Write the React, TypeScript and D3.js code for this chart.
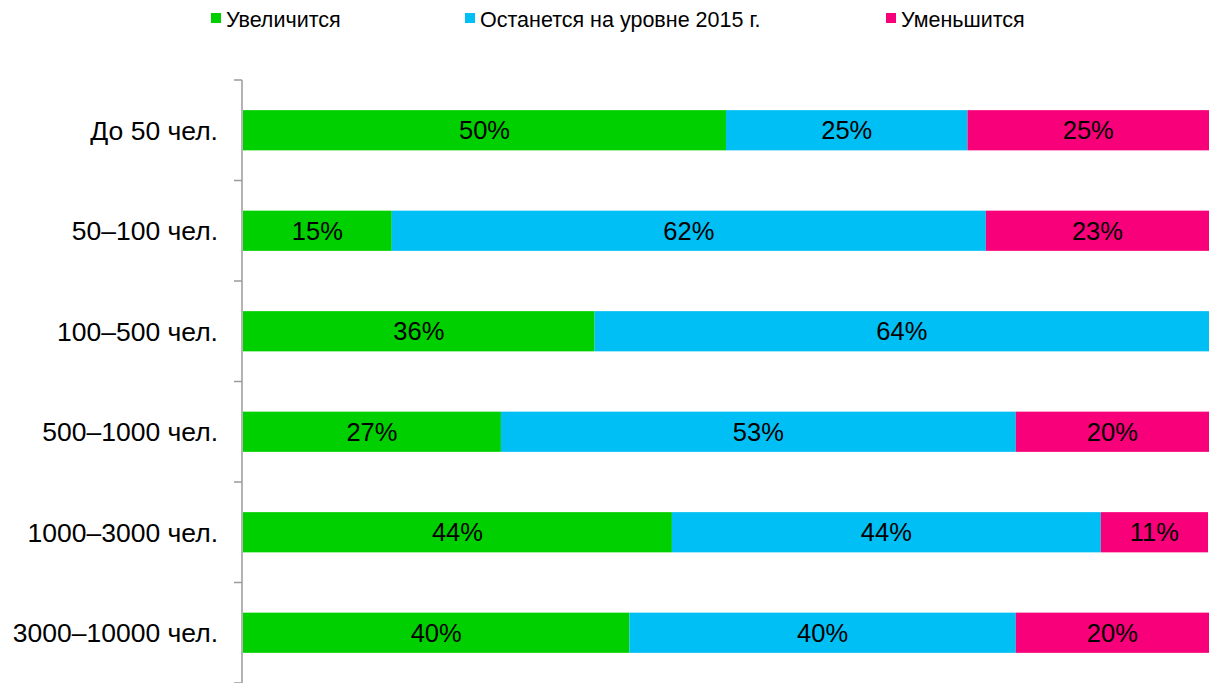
import React from "react";
import * as d3 from "d3";

const categories = ["До 50 чел.", "50–100 чел.", "100–500 чел.", "500–1000 чел.", "1000–3000 чел.", "3000–10000 чел."];
const seriesNames = ["Увеличится", "Останется на уровне 2015 г.", "Уменьшится"];
const increase = [50, 15.4, 36.4, 26.7, 44.4, 40];
const same = [25, 61.5, 63.6, 53.3, 44.4, 40];
const decrease = [25, 23.1, 0, 20, 11.1, 20];
const colors = ["#00cf00", "#00bff5", "#f7007a"];

const W = 1209;
const H = 683;
const FONT = "Arial, 'Liberation Sans', sans-serif";

export default function App() {
  const x = d3.scaleLinear().domain([0, 100]).range([243, 1209]);
  const y = d3.scaleBand<string>().domain(categories).range([80, 683]).paddingInner(0.6).paddingOuter(0.3);
  const rows = categories.map((c, i) => ({ cat: c, v: [increase[i], same[i], decrease[i]] }));
  const step = y.step();
  const boundaries = d3.range(categories.length + 1).map((i) => 80 + i * step);
  const legendX = [211, 465, 886];

  return (
    <svg width={W} height={H} style={{ position: "absolute", left: 0, top: 0, background: "#fff" }} fontFamily={FONT}>
      {/* legend */}
      {seriesNames.map((n, i) => (
        <g key={n}>
          <rect x={legendX[i]} y={13} width={10} height={10} fill={colors[i]} />
          <text x={legendX[i] + 15} y={27} fontSize={21.5} fill="#000">{n}</text>
        </g>
      ))}
      {/* bars */}
      {rows.map((r) => {
        let acc = 0;
        const yy = y(r.cat)!;
        return (
          <g key={r.cat}>
            {r.v.map((v, j) => {
              const x0 = x(acc);
              acc += v;
              const x1 = x(acc);
              if (v <= 0) return null;
              return (
                <g key={j}>
                  <rect x={x0} y={yy} width={x1 - x0} height={y.bandwidth()} fill={colors[j]} />
                  <text x={(x0 + x1) / 2} y={yy + y.bandwidth() / 2} dy="0.36em" textAnchor="middle" fontSize={25.5} fill="#000">
                    {Math.round(v)}%
                  </text>
                </g>
              );
            })}
            <text x={218} y={yy + y.bandwidth() / 2} dy="0.36em" textAnchor="end" fontSize={26.5} fill="#000">
              {r.cat}
            </text>
          </g>
        );
      })}
      {/* axis */}
      <line x1={242} x2={242} y1={80} y2={683} stroke="#9a9a9a" strokeWidth={1.5} />
      {boundaries.map((b, i) => (
        <line key={i} x1={234} x2={242} y1={b} y2={b} stroke="#9a9a9a" strokeWidth={1.5} />
      ))}
    </svg>
  );
}
